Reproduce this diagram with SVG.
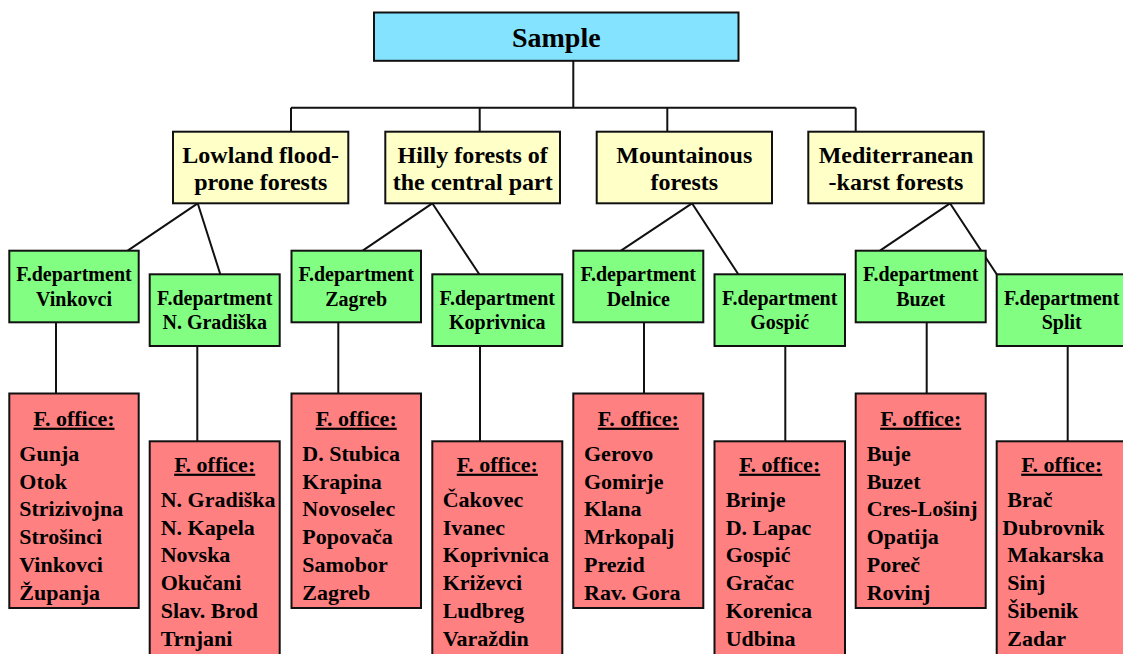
<svg xmlns="http://www.w3.org/2000/svg" width="1123" height="654" viewBox="0 0 1123 654">
<style>
text{font-family:"Liberation Serif","Times New Roman",serif;font-weight:bold;fill:#000}
.box{stroke:#111;stroke-width:2}
.root{fill:#84E4FF}
.cat{fill:#FFFFC8}
.dept{fill:#82FF82}
.off{fill:#FF8080}
.c{text-anchor:middle}
.t28{font-size:28px}
.t24{font-size:24px}
.t20{font-size:20px}
.t22{font-size:22px}
.hd{text-decoration:underline}
#connectors path{fill:none;stroke:#111;stroke-width:2}
</style>
<rect width="1123" height="654" fill="#fff"/>
<g id="connectors">
<path d="M573.3 61V107.7M291 107.7H855.7M291 107.7V132M479.7 107.7V132M667.3 107.7V132M855.7 107.7V132"/>
<path d="M197.7 203.3L127.7 250.7M197.7 203.3L220.3 274.3"/>
<path d="M432.3 203.3L362.7 250.7M432.3 203.3L479.3 274.3"/>
<path d="M692 203.3L621 250.7M692 203.3L738.3 274.3"/>
<path d="M950 203.3L880 250.7M950 203.3L996.7 274.3"/>
<path d="M56 322.3V393.5M338.3 322.3V393.5M644 322.3V393.5M926.7 322.3V393.5"/>
<path d="M197.3 346V441.3M480 346V441.3M785.3 346V441.3M1067.7 346V441.3"/>
</g>
<g id="sample">
<rect class="box root" x="374" y="12.5" width="364.5" height="48.3"/>
<text class="c t28" x="556.3" y="47">Sample</text>
</g>
<g id="lowland">
<rect class="box cat" x="173" y="131.7" width="175.3" height="71.6"/>
<text class="c t24" x="260.7" y="162.5">Lowland flood-</text>
<text class="c t24" x="260.7" y="189.5">prone forests</text>
</g>
<g id="hilly">
<rect class="box cat" x="385.3" y="131.7" width="174.7" height="71.6"/>
<text class="c t24" x="472.7" y="162.5">Hilly forests of</text>
<text class="c t24" x="472.7" y="189.5">the central part</text>
</g>
<g id="mountainous">
<rect class="box cat" x="596.7" y="131.7" width="175.3" height="71.6"/>
<text class="c t24" x="684.3" y="162.5">Mountainous</text>
<text class="c t24" x="684.3" y="189.5">forests</text>
</g>
<g id="mediterranean">
<rect class="box cat" x="808.3" y="131.7" width="175.4" height="71.6"/>
<text class="c t24" x="896" y="162.5">Mediterranean</text>
<text class="c t24" x="896" y="189.5">-karst forests</text>
</g>
<g id="dept-vinkovci">
<rect class="box dept" x="9.3" y="250.7" width="129.4" height="71.6"/>
<text class="c t20" x="74" y="281">F.department</text>
<text class="c t20" x="74" y="306">Vinkovci</text>
</g>
<g id="dept-ngradiska">
<rect class="box dept" x="149.7" y="274.3" width="130" height="71.7"/>
<text class="c t20" x="214.7" y="305">F.department</text>
<text class="c t20" x="214.7" y="329">N. Gradiška</text>
</g>
<g id="dept-zagreb">
<rect class="box dept" x="291.5" y="250.7" width="129.5" height="71.6"/>
<text class="c t20" x="356.2" y="281">F.department</text>
<text class="c t20" x="356.2" y="306">Zagreb</text>
</g>
<g id="dept-koprivnica">
<rect class="box dept" x="432.3" y="274.3" width="130" height="71.7"/>
<text class="c t20" x="497.3" y="305">F.department</text>
<text class="c t20" x="497.3" y="329">Koprivnica</text>
</g>
<g id="dept-delnice">
<rect class="box dept" x="573.3" y="250.7" width="130" height="71.6"/>
<text class="c t20" x="638.3" y="281">F.department</text>
<text class="c t20" x="638.3" y="306">Delnice</text>
</g>
<g id="dept-gospic">
<rect class="box dept" x="714.5" y="274.3" width="130.5" height="71.7"/>
<text class="c t20" x="779.7" y="305">F.department</text>
<text class="c t20" x="779.7" y="329">Gospić</text>
</g>
<g id="dept-buzet">
<rect class="box dept" x="855.7" y="250.7" width="130" height="71.6"/>
<text class="c t20" x="920.7" y="281">F.department</text>
<text class="c t20" x="920.7" y="306">Buzet</text>
</g>
<g id="dept-split">
<rect class="box dept" x="996.7" y="274.3" width="130" height="71.7"/>
<text class="c t20" x="1061.7" y="305">F.department</text>
<text class="c t20" x="1061.7" y="329">Split</text>
</g>
<g id="office-vinkovci">
<rect class="box off" x="9.3" y="393.5" width="129.4" height="214.5"/>
<text class="c t22 hd" x="74" y="425.7">F. office:</text>
<text class="t22" x="19.3" y="461">Gunja</text>
<text class="t22" x="19.3" y="488.7">Otok</text>
<text class="t22" x="19.3" y="516.4">Strizivojna</text>
<text class="t22" x="19.3" y="544.1">Strošinci</text>
<text class="t22" x="19.3" y="571.8">Vinkovci</text>
<text class="t22" x="19.3" y="599.5">Županja</text>
</g>
<g id="office-ngradiska">
<rect class="box off" x="149.7" y="441.3" width="130" height="220"/>
<text class="c t22 hd" x="214.7" y="471.7">F. office:</text>
<text class="t22" x="160.7" y="507">N. Gradiška</text>
<text class="t22" x="160.7" y="534.7">N. Kapela</text>
<text class="t22" x="160.7" y="562.4">Novska</text>
<text class="t22" x="160.7" y="590.1">Okučani</text>
<text class="t22" x="160.7" y="617.8">Slav. Brod</text>
<text class="t22" x="160.7" y="645.5">Trnjani</text>
</g>
<g id="office-zagreb">
<rect class="box off" x="291.5" y="393.5" width="129.5" height="214.5"/>
<text class="c t22 hd" x="356.2" y="425.7">F. office:</text>
<text class="t22" x="302.3" y="461">D. Stubica</text>
<text class="t22" x="302.3" y="488.7">Krapina</text>
<text class="t22" x="302.3" y="516.4">Novoselec</text>
<text class="t22" x="302.3" y="544.1">Popovača</text>
<text class="t22" x="302.3" y="571.8">Samobor</text>
<text class="t22" x="302.3" y="599.5">Zagreb</text>
</g>
<g id="office-koprivnica">
<rect class="box off" x="432.3" y="441.3" width="130" height="220"/>
<text class="c t22 hd" x="497.3" y="471.7">F. office:</text>
<text class="t22" x="442.7" y="507">Čakovec</text>
<text class="t22" x="442.7" y="534.7">Ivanec</text>
<text class="t22" x="442.7" y="562.4">Koprivnica</text>
<text class="t22" x="442.7" y="590.1">Križevci</text>
<text class="t22" x="442.7" y="617.8">Ludbreg</text>
<text class="t22" x="442.7" y="645.5">Varaždin</text>
</g>
<g id="office-delnice">
<rect class="box off" x="573.3" y="393.5" width="130" height="214.5"/>
<text class="c t22 hd" x="638.3" y="425.7">F. office:</text>
<text class="t22" x="584" y="461">Gerovo</text>
<text class="t22" x="584" y="488.7">Gomirje</text>
<text class="t22" x="584" y="516.4">Klana</text>
<text class="t22" x="584" y="544.1">Mrkopalj</text>
<text class="t22" x="584" y="571.8">Prezid</text>
<text class="t22" x="584" y="599.5">Rav. Gora</text>
</g>
<g id="office-gospic">
<rect class="box off" x="714.5" y="441.3" width="130.5" height="220"/>
<text class="c t22 hd" x="779.7" y="471.7">F. office:</text>
<text class="t22" x="725.7" y="507">Brinje</text>
<text class="t22" x="725.7" y="534.7">D. Lapac</text>
<text class="t22" x="725.7" y="562.4">Gospić</text>
<text class="t22" x="725.7" y="590.1">Gračac</text>
<text class="t22" x="725.7" y="617.8">Korenica</text>
<text class="t22" x="725.7" y="645.5">Udbina</text>
</g>
<g id="office-buzet">
<rect class="box off" x="855.7" y="393.5" width="130" height="214.5"/>
<text class="c t22 hd" x="920.7" y="425.7">F. office:</text>
<text class="t22" x="866.7" y="461">Buje</text>
<text class="t22" x="866.7" y="488.7">Buzet</text>
<text class="t22" x="866.7" y="516.4">Cres-Lošinj</text>
<text class="t22" x="866.7" y="544.1">Opatija</text>
<text class="t22" x="866.7" y="571.8">Poreč</text>
<text class="t22" x="866.7" y="599.5">Rovinj</text>
</g>
<g id="office-split">
<rect class="box off" x="996.7" y="441.3" width="130" height="220"/>
<text class="c t22 hd" x="1061.7" y="471.7">F. office:</text>
<text class="t22" x="1007.3" y="507">Brač</text>
<text class="t22" x="1002.3" y="534.7">Dubrovnik</text>
<text class="t22" x="1007.3" y="562.4">Makarska</text>
<text class="t22" x="1007.3" y="590.1">Sinj</text>
<text class="t22" x="1007.3" y="617.8">Šibenik</text>
<text class="t22" x="1007.3" y="645.5">Zadar</text>
</g>
</svg>
